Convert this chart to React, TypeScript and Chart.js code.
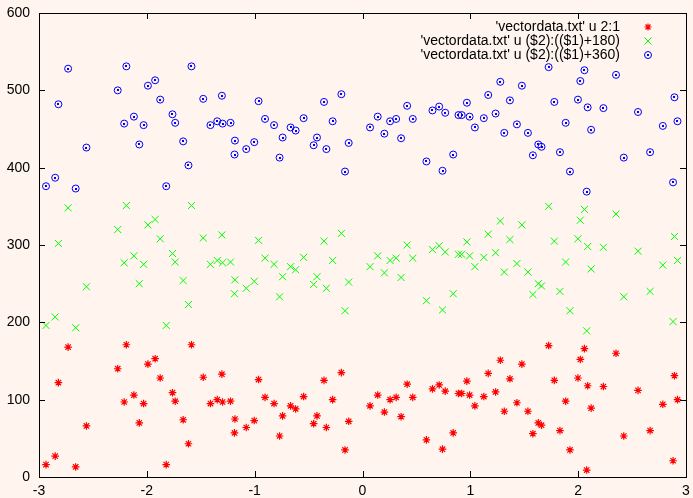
import React, { useEffect, useRef } from "react";
import { Chart, registerables } from "chart.js";

Chart.register(...registerables);

const xValues = [-2.935, -2.85, -2.82, -2.73, -2.66, -2.56, -2.27, -2.21, -2.19, -2.12, -2.07, -2.03, -1.99, -1.923, -1.876, -1.82, -1.762, -1.737, -1.663, -1.614, -1.586, -1.477, -1.41, -1.347, -1.304, -1.298, -1.224, -1.187, -1.183, -1.078, -1.004, -0.964, -0.904, -0.82, -0.769, -0.741, -0.667, -0.62, -0.546, -0.453, -0.422, -0.357, -0.335, -0.277, -0.196, -0.162, -0.128, 0.07, 0.141, 0.203, 0.256, 0.312, 0.358, 0.414, 0.466, 0.593, 0.649, 0.711, 0.742, 0.767, 0.841, 0.89, 0.92, 0.968, 0.993, 1.042, 1.125, 1.166, 1.234, 1.278, 1.315, 1.367, 1.432, 1.478, 1.534, 1.58, 1.63, 1.66, 1.726, 1.779, 1.831, 1.884, 1.924, 1.998, 2.02, 2.058, 2.079, 2.088, 2.12, 2.234, 2.351, 2.423, 2.555, 2.667, 2.785, 2.893, 2.88, 2.921];

const redValues = [16, 27, 122, 168, 13, 66, 140, 97, 171, 106, 70, 95, 146, 153, 128, 16, 109, 98, 74, 43, 171, 129, 95, 100, 133, 97, 98, 57, 75, 64, 73, 126, 103, 95, 53, 79, 92, 88, 104, 69, 79, 125, 64, 100, 135, 35, 72, 92, 106, 84, 100, 103, 78, 120, 103, 48, 114, 119, 36, 111, 57, 108, 108, 124, 106, 92, 104, 134, 110, 151, 85, 127, 96, 146, 85, 56, 70, 67, 170, 125, 60, 98, 35, 128, 152, 166, 9, 118, 89, 117, 160, 53, 112, 60, 94, 131, 21, 100];

const greenValues = [196, 207, 302, 348, 193, 246, 320, 277, 351, 286, 250, 275, 326, 333, 308, 196, 289, 278, 254, 223, 351, 309, 275, 280, 313, 277, 278, 237, 255, 244, 253, 306, 283, 275, 233, 259, 272, 268, 284, 249, 259, 305, 244, 280, 315, 215, 252, 272, 286, 264, 280, 283, 258, 300, 283, 228, 294, 299, 216, 291, 237, 288, 288, 304, 286, 272, 284, 314, 290, 331, 265, 307, 276, 326, 265, 236, 250, 247, 350, 305, 240, 278, 215, 308, 332, 346, 189, 298, 269, 297, 340, 233, 292, 240, 274, 311, 201, 280];

const blueValues = [376, 387, 482, 528, 373, 426, 500, 457, 531, 466, 430, 455, 506, 513, 488, 376, 469, 458, 434, 403, 531, 489, 455, 460, 493, 457, 458, 417, 435, 424, 433, 486, 463, 455, 413, 439, 452, 448, 464, 429, 439, 485, 424, 460, 495, 395, 432, 452, 466, 444, 460, 463, 438, 480, 463, 408, 474, 479, 396, 471, 417, 468, 468, 484, 466, 452, 464, 494, 470, 511, 445, 487, 456, 506, 445, 416, 430, 427, 530, 485, 420, 458, 395, 488, 512, 526, 369, 478, 449, 477, 520, 413, 472, 420, 454, 491, 381, 460];

const seriesLabels = [
  "'vectordata.txt' u 2:1",
  "'vectordata.txt' u ($2):(($1)+180)",
  "'vectordata.txt' u ($2):(($1)+360)",
];

const xTicks = [-3, -2, -1, 0, 1, 2, 3];
const yTicks = [0, 100, 200, 300, 400, 500, 600];

const FONT = "Liberation Sans, Arial, sans-serif";
const BG = "#fff5ee";

function toPoints(ys: number[]) {
  return xValues.map((x, i) => ({ x, y: ys[i] }));
}

export default function App() {
  const ref = useRef<HTMLCanvasElement | null>(null);

  useEffect(() => {
    document.body.style.margin = "0";
    document.body.style.background = BG;
    const canvas = ref.current!;

    const framePlugin = {
      id: "gnuframe",
      beforeDraw(chart: any) {
        const ctx = chart.ctx;
        ctx.save();
        ctx.fillStyle = BG;
        ctx.fillRect(0, 0, chart.width, chart.height);
        ctx.restore();
      },
      afterDatasetsDraw(chart: any) {
        const ctx = chart.ctx;
        ctx.save();
        ctx.fillStyle = "#0000ff";
        const meta = chart.getDatasetMeta(2);
        for (const el of meta.data) {
          ctx.fillRect(Math.round(el.x) - 1, Math.round(el.y) - 1, 2, 2);
        }
        ctx.restore();
      },
      afterDraw(chart: any) {
        const ctx = chart.ctx;
        const a = chart.chartArea;
        const xs = chart.scales.x;
        const ys = chart.scales.y;
        ctx.save();
        ctx.strokeStyle = "#000";
        ctx.lineWidth = 1;
        ctx.strokeRect(Math.round(a.left) + 0.5, Math.round(a.top) + 0.5, Math.round(a.right - a.left), Math.round(a.bottom - a.top));
        const tl = 6;
        ctx.beginPath();
        for (const v of xTicks) {
          const px = Math.round(xs.getPixelForValue(v)) + 0.5;
          ctx.moveTo(px, a.bottom);
          ctx.lineTo(px, a.bottom - tl);
          ctx.moveTo(px, a.top);
          ctx.lineTo(px, a.top + tl);
        }
        for (const v of yTicks) {
          const py = Math.round(ys.getPixelForValue(v)) + 0.5;
          ctx.moveTo(a.left, py);
          ctx.lineTo(a.left + tl, py);
          ctx.moveTo(a.right, py);
          ctx.lineTo(a.right - tl, py);
        }
        ctx.stroke();

        // legend
        ctx.font = "14px " + FONT;
        ctx.fillStyle = "#000";
        ctx.textAlign = "right";
        ctx.textBaseline = "middle";
        const textRight = 620;
        const symX = 648;
        const rows = [27, 41, 55];
        rows.forEach((ry, i) => {
          ctx.fillText(seriesLabels[i], textRight, ry);
        });
        const r = 3.5;
        const d = r * 0.7071;
        ctx.strokeStyle = "#ff0000";
        ctx.lineWidth = 1.2;
        ctx.beginPath();
        let cy = rows[0];
        ctx.moveTo(symX - r, cy); ctx.lineTo(symX + r, cy);
        ctx.moveTo(symX, cy - r); ctx.lineTo(symX, cy + r);
        ctx.moveTo(symX - d, cy - d); ctx.lineTo(symX + d, cy + d);
        ctx.moveTo(symX - d, cy + d); ctx.lineTo(symX + d, cy - d);
        ctx.stroke();
        ctx.strokeStyle = "#00ff00";
        ctx.lineWidth = 1;
        ctx.beginPath();
        cy = rows[1];
        ctx.moveTo(symX - r, cy - r); ctx.lineTo(symX + r, cy + r);
        ctx.moveTo(symX - r, cy + r); ctx.lineTo(symX + r, cy - r);
        ctx.stroke();
        ctx.strokeStyle = "#0000ff";
        ctx.beginPath();
        ctx.arc(symX, rows[2], 3.5, 0, Math.PI * 2);
        ctx.stroke();
        ctx.fillStyle = "#0000ff";
        ctx.fillRect(symX - 1, rows[2] - 1, 2, 2);
        ctx.restore();
      },
    };

    const chart = new Chart(canvas, {
      type: "scatter",
      data: {
        datasets: [
          {
            label: seriesLabels[0],
            data: toPoints(redValues),
            pointStyle: "star",
            radius: 3.8,
            borderColor: "#ff0000",
            backgroundColor: "#ff0000",
            borderWidth: 1.2,
          },
          {
            label: seriesLabels[1],
            data: toPoints(greenValues),
            pointStyle: "crossRot",
            radius: 5,
            borderColor: "#00ff00",
            backgroundColor: "#00ff00",
            borderWidth: 1,
          },
          {
            label: seriesLabels[2],
            data: toPoints(blueValues),
            pointStyle: "circle",
            radius: 3.5,
            borderColor: "#0000ff",
            backgroundColor: "rgba(0,0,0,0)",
            borderWidth: 1,
          },
        ],
      },
      options: {
        animation: false,
        responsive: false,
        devicePixelRatio: 1,
        events: [],
        layout: { padding: { top: 13, right: 7, left: 0, bottom: 0 } },
        plugins: {
          legend: { display: false },
          tooltip: { enabled: false },
        },
        scales: {
          x: {
            type: "linear",
            min: -3,
            max: 3,
            afterBuildTicks: (s: any) => {
              s.ticks = xTicks.map((v) => ({ value: v }));
            },
            afterFit: (s: any) => {
              s.height = 21;
              s.paddingLeft = 0;
              s.paddingRight = 0;
              s.paddingTop = 0;
              s.paddingBottom = 0;
            },
            grid: { display: false, drawTicks: false },
            border: { display: false },
            ticks: {
              color: "#000",
              padding: 6,
              font: { family: FONT, size: 14 },
              maxRotation: 0,
              autoSkip: false,
            },
          },
          y: {
            type: "linear",
            min: 0,
            max: 600,
            afterBuildTicks: (s: any) => {
              s.ticks = yTicks.map((v) => ({ value: v }));
            },
            afterFit: (s: any) => {
              s.width = 39;
              s.paddingLeft = 0;
              s.paddingRight = 0;
              s.paddingTop = 0;
              s.paddingBottom = 0;
            },
            grid: { display: false, drawTicks: false },
            border: { display: false },
            ticks: {
              color: "#000",
              padding: 9,
              font: { family: FONT, size: 14 },
              autoSkip: false,
            },
          },
        },
      },
      plugins: [framePlugin],
    });

    return () => {
      chart.destroy();
    };
  }, []);

  return <canvas ref={ref} width={693} height={498} style={{ display: "block" }} />;
}
